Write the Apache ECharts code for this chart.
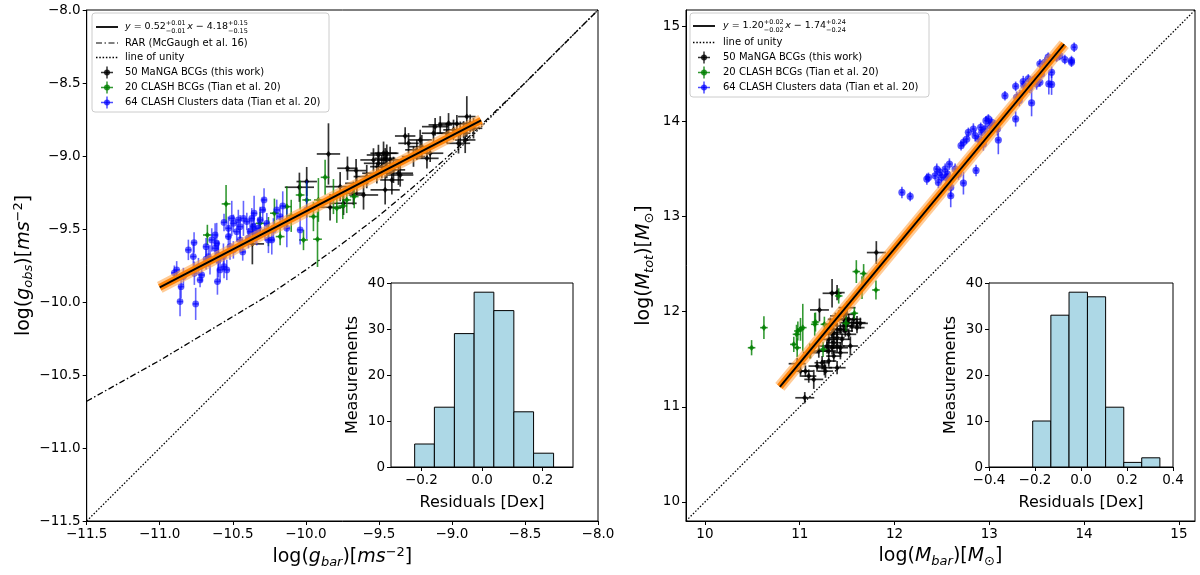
<!DOCTYPE html>
<html>
<head>
<meta charset="utf-8">
<script src="https://cdn.jsdelivr.net/npm/echarts/dist/echarts.min.js"></script>
<style>
    html, body { margin: 0; padding: 0; background: #fff; }
    #chart { width: 1200px; height: 575px; }
</style>
</head>
<body>
<div id="chart"></div>
<script>
// ======================================数据======================================
// 每个点: [x, y, xerr, yerr]
var accBlack = [
    [-10.366, -9.602, 0.08, 0.14], [-10.044, -9.214, 0.10, 0.10], [-9.994, -9.175, 0.07, 0.10],
    [-9.845, -8.986, 0.08, 0.21], [-9.834, -9.351, 0.10, 0.09], [-9.765, -9.210, 0.10, 0.10],
    [-9.715, -9.084, 0.07, 0.08], [-9.656, -9.100, 0.07, 0.08], [-9.605, -9.267, 0.10, 0.10],
    [-9.674, -9.255, 0.08, 0.08], [-9.503, -8.993, 0.08, 0.07], [-9.468, -8.981, 0.09, 0.08],
    [-9.446, -8.981, 0.08, 0.06], [-9.503, -9.050, 0.10, 0.08], [-9.480, -9.073, 0.08, 0.08],
    [-9.457, -9.016, 0.07, 0.07], [-9.423, -9.027, 0.09, 0.09], [-9.457, -9.232, 0.10, 0.10],
    [-9.400, -9.095, 0.08, 0.09], [-9.366, -9.118, 0.10, 0.08], [-9.320, -8.863, 0.07, 0.06],
    [-9.297, -8.913, 0.07, 0.07], [-9.206, -8.936, 0.09, 0.08], [-9.171, -9.016, 0.08, 0.07],
    [-9.080, -8.787, 0.08, 0.06], [-9.023, -8.776, 0.07, 0.07], [-8.966, -8.780, 0.08, 0.06],
    [-8.943, -8.844, 0.07, 0.08], [-8.898, -8.730, 0.06, 0.14], [-8.955, -8.913, 0.08, 0.07],
    [-8.920, -8.821, 0.07, 0.06], [-9.354, -9.130, 0.09, 0.08], [-9.742, -9.324, 0.09, 0.08],
    [-9.514, -9.118, 0.10, 0.07], [-9.583, -9.141, 0.09, 0.08], [-9.240, -8.958, 0.08, 0.07],
    [-9.126, -8.844, 0.08, 0.06], [-8.989, -8.821, 0.07, 0.07], [-8.875, -8.776, 0.06, 0.06],
    [-9.537, -9.027, 0.09, 0.08], [-9.411, -9.164, 0.08, 0.10], [-9.263, -9.004, 0.08, 0.07],
    [-9.115, -8.799, 0.09, 0.06], [-9.035, -8.844, 0.07, 0.07], [-9.217, -8.890, 0.08, 0.07],
    [-9.149, -8.981, 0.09, 0.06], [-9.446, -9.073, 0.08, 0.08], [-8.909, -8.890, 0.07, 0.09],
    [-8.852, -8.810, 0.06, 0.07], [-9.651, -9.187, 0.08, 0.08]
];
var accGreen = [
    [-10.546, -9.328, 0.03, 0.13], [-10.674, -9.541, 0.03, 0.07], [-10.215, -9.392, 0.03, 0.10],
    [-10.130, -9.347, 0.03, 0.14], [-10.016, -9.575, 0.03, 0.07], [-9.920, -9.570, 0.03, 0.19],
    [-10.176, -9.552, 0.03, 0.06], [-9.994, -9.301, 0.03, 0.12], [-9.914, -9.301, 0.03, 0.15],
    [-9.868, -9.146, 0.03, 0.12], [-9.788, -9.358, 0.03, 0.10], [-9.747, -9.342, 0.03, 0.09],
    [-9.669, -9.278, 0.03, 0.08], [-10.256, -9.518, 0.03, 0.10], [-10.039, -9.267, 0.03, 0.10],
    [-9.948, -9.415, 0.03, 0.10], [-9.811, -9.278, 0.03, 0.12], [-10.313, -9.461, 0.03, 0.08],
    [-9.720, -9.301, 0.03, 0.09], [-10.100, -9.410, 0.03, 0.11]
];
var accBlue = [
    [-10.884, -9.780, 0.02, 0.06], [-10.854, -9.895, 0.02, 0.08], [-10.861, -9.997, 0.02, 0.10],
    [-10.765, -9.593, 0.02, 0.07], [-10.770, -9.689, 0.02, 0.09], [-10.754, -10.013, 0.02, 0.11],
    [-10.763, -9.803, 0.02, 0.08], [-10.724, -9.849, 0.02, 0.05], [-10.713, -9.815, 0.02, 0.05],
    [-10.683, -9.621, 0.02, 0.06], [-10.683, -9.707, 0.02, 0.07], [-10.656, -9.712, 0.02, 0.10],
    [-10.621, -9.541, 0.02, 0.08], [-10.610, -9.598, 0.02, 0.14], [-10.599, -9.678, 0.02, 0.10],
    [-10.599, -9.712, 0.02, 0.12], [-10.605, -9.860, 0.02, 0.09], [-10.560, -9.758, 0.02, 0.08],
    [-10.541, -9.780, 0.02, 0.07], [-10.530, -9.552, 0.02, 0.07], [-10.530, -9.495, 0.02, 0.08],
    [-10.519, -9.621, 0.02, 0.09], [-10.507, -9.427, 0.02, 0.12], [-10.496, -9.461, 0.02, 0.06],
    [-10.462, -9.438, 0.02, 0.07], [-10.427, -9.427, 0.02, 0.12], [-10.432, -9.657, 0.02, 0.06],
    [-10.450, -9.575, 0.02, 0.08], [-10.393, -9.563, 0.02, 0.07], [-10.382, -9.518, 0.02, 0.09],
    [-10.359, -9.484, 0.02, 0.10], [-10.354, -9.392, 0.02, 0.12], [-10.347, -9.529, 0.02, 0.07],
    [-10.313, -9.438, 0.02, 0.09], [-10.295, -9.369, 0.02, 0.08], [-10.286, -9.301, 0.02, 0.08],
    [-10.267, -9.461, 0.02, 0.07], [-10.256, -9.575, 0.02, 0.09], [-10.222, -9.506, 0.02, 0.08],
    [-10.176, -9.415, 0.02, 0.07], [-10.158, -9.342, 0.02, 0.10], [-10.130, -9.495, 0.02, 0.13],
    [-9.994, -9.369, 0.02, 0.20], [-10.804, -9.643, 0.02, 0.07], [-10.735, -9.758, 0.02, 0.06],
    [-10.644, -9.575, 0.02, 0.08], [-10.564, -9.689, 0.02, 0.09], [-10.473, -9.518, 0.02, 0.07],
    [-10.404, -9.449, 0.02, 0.06], [-10.325, -9.495, 0.02, 0.07], [-10.587, -9.780, 0.02, 0.08],
    [-10.496, -9.643, 0.02, 0.06], [-10.370, -9.427, 0.02, 0.07], [-10.233, -9.575, 0.02, 0.10],
    [-10.199, -9.369, 0.02, 0.07], [-10.838, -9.826, 0.02, 0.06], [-10.667, -9.689, 0.02, 0.07],
    [-10.450, -9.484, 0.02, 0.08], [-10.336, -9.552, 0.02, 0.06], [-10.621, -9.632, 0.02, 0.07],
    [-10.039, -9.506, 0.02, 0.10], [-10.900, -9.800, 0.02, 0.05], [-10.560, -9.455, 0.02, 0.06],
    [-10.280, -9.520, 0.02, 0.06]
];
var massBlack = [
    [11.808, 12.621, 0.10, 0.12], [11.341, 12.193, 0.10, 0.15], [11.394, 12.200, 0.08, 0.08],
    [11.208, 12.018, 0.10, 0.12], [11.053, 11.095, 0.10, 0.06], [11.148, 11.288, 0.10, 0.10],
    [11.060, 11.375, 0.08, 0.06], [11.008, 11.375, 0.08, 0.06], [10.973, 11.453, 0.09, 0.06],
    [11.260, 11.411, 0.08, 0.08], [11.394, 11.411, 0.09, 0.07], [11.306, 11.481, 0.08, 0.06],
    [11.288, 11.639, 0.08, 0.08], [11.341, 11.621, 0.09, 0.07], [11.394, 11.639, 0.08, 0.07],
    [11.429, 11.621, 0.08, 0.06], [11.341, 11.762, 0.08, 0.08], [11.359, 11.779, 0.09, 0.07],
    [11.394, 11.814, 0.08, 0.07], [11.429, 11.814, 0.08, 0.06], [11.464, 11.849, 0.09, 0.07],
    [11.481, 11.797, 0.08, 0.06], [11.516, 11.919, 0.09, 0.06], [11.569, 11.919, 0.08, 0.06],
    [11.604, 11.884, 0.09, 0.07], [11.639, 11.877, 0.08, 0.06], [11.534, 11.639, 0.08, 0.10],
    [11.481, 11.972, 0.08, 0.06], [11.499, 12.042, 0.09, 0.07], [11.376, 11.919, 0.08, 0.07],
    [11.113, 11.569, 0.08, 0.06], [11.201, 11.586, 0.09, 0.07], [11.306, 11.709, 0.08, 0.07],
    [11.394, 11.727, 0.08, 0.06], [11.271, 11.375, 0.08, 0.07], [11.446, 11.709, 0.09, 0.06],
    [11.551, 11.849, 0.08, 0.06], [11.236, 11.463, 0.08, 0.07], [11.359, 11.533, 0.08, 0.06],
    [11.464, 11.919, 0.08, 0.06], [11.323, 11.867, 0.08, 0.07], [11.411, 11.955, 0.09, 0.06],
    [11.516, 11.762, 0.08, 0.06], [11.604, 11.832, 0.08, 0.06], [11.183, 11.428, 0.09, 0.06],
    [11.429, 11.569, 0.08, 0.07], [11.306, 11.586, 0.08, 0.06], [11.095, 11.323, 0.08, 0.07],
    [11.499, 11.884, 0.08, 0.06], [11.359, 11.674, 0.08, 0.07]
];
var massGreen = [
    [10.492, 11.621, 0.04, 0.08], [10.622, 11.832, 0.04, 0.12], [10.937, 11.656, 0.04, 0.08],
    [10.973, 11.621, 0.04, 0.10], [10.980, 11.797, 0.04, 0.10], [11.008, 11.814, 0.04, 0.12],
    [11.032, 11.832, 0.04, 0.25], [11.158, 11.867, 0.04, 0.12], [11.260, 11.867, 0.04, 0.08],
    [11.246, 11.604, 0.04, 0.08], [11.411, 12.165, 0.04, 0.08], [11.488, 11.877, 0.04, 0.08],
    [11.576, 11.983, 0.04, 0.06], [11.597, 12.421, 0.04, 0.12], [11.674, 12.400, 0.04, 0.10],
    [11.657, 12.253, 0.04, 0.12], [11.804, 12.228, 0.04, 0.10], [11.166, 11.891, 0.04, 0.10],
    [10.966, 11.762, 0.04, 0.10], [11.106, 11.586, 0.04, 0.08]
];
var massBlue = [
    [12.078, 13.253, 0.02, 0.06], [12.165, 13.211, 0.02, 0.05], [12.341, 13.393, 0.02, 0.06],
    [12.358, 13.411, 0.02, 0.05], [12.428, 13.428, 0.02, 0.05], [12.463, 13.358, 0.02, 0.06],
    [12.481, 13.463, 0.02, 0.05], [12.499, 13.411, 0.02, 0.05], [12.534, 13.498, 0.02, 0.06],
    [12.544, 13.411, 0.02, 0.05], [12.579, 13.551, 0.02, 0.06], [12.558, 13.446, 0.02, 0.05],
    [12.593, 13.305, 0.02, 0.10], [12.593, 13.217, 0.02, 0.12], [12.674, 13.446, 0.02, 0.06],
    [12.727, 13.351, 0.02, 0.12], [12.860, 13.484, 0.02, 0.06], [12.702, 13.744, 0.02, 0.05],
    [12.727, 13.779, 0.02, 0.05], [12.762, 13.814, 0.02, 0.05], [12.779, 13.884, 0.02, 0.05],
    [12.832, 13.919, 0.02, 0.06], [12.850, 13.849, 0.02, 0.06], [12.885, 13.814, 0.02, 0.05],
    [12.909, 13.937, 0.02, 0.05], [12.920, 13.884, 0.02, 0.06], [12.937, 13.762, 0.02, 0.07],
    [12.965, 14.007, 0.02, 0.05], [12.990, 14.025, 0.02, 0.05], [13.007, 13.954, 0.02, 0.06],
    [13.025, 13.990, 0.02, 0.05], [13.060, 13.954, 0.02, 0.06], [13.085, 13.919, 0.02, 0.07],
    [13.095, 13.804, 0.02, 0.15], [13.165, 14.270, 0.02, 0.05], [13.278, 14.025, 0.02, 0.08],
    [13.278, 14.368, 0.02, 0.05], [13.288, 14.253, 0.02, 0.06], [13.316, 14.218, 0.02, 0.06],
    [13.358, 14.418, 0.02, 0.06], [13.365, 14.376, 0.02, 0.05], [13.446, 14.193, 0.02, 0.14],
    [13.428, 14.358, 0.02, 0.06], [13.481, 14.446, 0.02, 0.05], [13.499, 14.393, 0.02, 0.06],
    [13.534, 14.411, 0.02, 0.05], [13.551, 14.498, 0.02, 0.05], [13.534, 14.604, 0.02, 0.05],
    [13.621, 14.674, 0.02, 0.05], [13.657, 14.516, 0.02, 0.06], [13.628, 14.393, 0.02, 0.11],
    [13.657, 14.388, 0.02, 0.11], [13.744, 14.691, 0.02, 0.05], [13.797, 14.649, 0.02, 0.05],
    [13.867, 14.639, 0.02, 0.05], [13.867, 14.621, 0.02, 0.05], [13.895, 14.779, 0.02, 0.05],
    [13.709, 14.674, 0.02, 0.05], [13.323, 14.270, 0.02, 0.06], [13.586, 14.621, 0.02, 0.05],
    [13.411, 14.446, 0.02, 0.05], [12.955, 13.919, 0.02, 0.05], [12.446, 13.498, 0.02, 0.06],
    [12.639, 13.498, 0.02, 0.06]
];

// 拟合线 (两端点) 和 RAR 曲线
var accFitX = [-11.0, -8.8];
var accFitY = [-9.90, -8.756];
var massFitX = [10.79, 13.79];
var massFitY = [11.21, 14.81];
var rarX = [-11.5, -11.25, -11.0, -10.75, -10.5, -10.25, -10.0, -9.75, -9.5, -9.25, -9.0, -8.75, -8.5, -8.25, -8.0];
var rarY = [-10.68, -10.54, -10.40, -10.25, -10.10, -9.95, -9.78, -9.60, -9.41, -9.20, -8.98, -8.74, -8.50, -8.25, -8.00];

// 残差直方图
var accHistEdges = [-0.222, -0.157, -0.091, -0.026, 0.039, 0.105, 0.170, 0.236];
var accHistCounts = [5, 13, 29, 38, 34, 12, 3];
var massHistEdges = [-0.210, -0.131, -0.052, 0.028, 0.107, 0.186, 0.264, 0.343];
var massHistCounts = [10, 33, 38, 37, 13, 1, 2];

// 刻度
var massTicks = [10, 11, 12, 13, 14, 15];
var accHistTicks = [-0.2, 0, 0.2];

// ======================================工具函数======================================
var FONT = 'DejaVu Sans';
var measureCtx = document.createElement('canvas').getContext('2d');

function textW(str, size, italic) {
    measureCtx.font = (italic ? 'italic ' : '') + size + 'px "' + FONT + '"';
    return measureCtx.measureText(str).width;
}

function fmt(d) {
    return function (v) {
        if (Math.abs(v) < 1e-9) v = 0;
        return v.toFixed(d).replace('-', '\u2212');
    };
}

function zip(xs, ys) {
    return xs.map(function (x, i) { return [x, ys[i]]; });
}

function histData(edges, counts) {
    return counts.map(function (c, i) { return [edges[i], edges[i + 1], c]; });
}

function errorBarRender(color, alpha, shape, size, lw) {
    return function (params, api) {
        var x = api.value(0), y = api.value(1), ex = api.value(2), ey = api.value(3);
        var c = api.coord([x, y]);
        var l = api.coord([x - ex, y]), r = api.coord([x + ex, y]);
        var t = api.coord([x, y + ey]), b = api.coord([x, y - ey]);
        var ls = { stroke: color, lineWidth: lw, opacity: alpha };
        var marker;
        if (shape === 'diamond') {
            marker = {
                type: 'polygon',
                shape: { points: [[c[0], c[1] - size], [c[0] + size * 0.8, c[1]], [c[0], c[1] + size], [c[0] - size * 0.8, c[1]]] },
                style: { fill: color, opacity: alpha }
            };
        } else {
            marker = { type: 'circle', shape: { cx: c[0], cy: c[1], r: size }, style: { fill: color, opacity: alpha } };
        }
        return {
            type: 'group',
            children: [
                { type: 'line', shape: { x1: l[0], y1: l[1], x2: r[0], y2: r[1] }, style: ls },
                { type: 'line', shape: { x1: t[0], y1: t[1], x2: b[0], y2: b[1] }, style: ls },
                marker
            ]
        };
    };
}

function histRender(params, api) {
    var p0 = api.coord([api.value(0), api.value(2)]);
    var p1 = api.coord([api.value(1), 0]);
    return {
        type: 'rect',
        shape: { x: p0[0], y: p0[1], width: p1[0] - p0[0], height: p1[1] - p0[1] },
        style: { fill: '#add8e6', stroke: '#000', lineWidth: 1 }
    };
}

function axisBase(grid, min, max, labelSize) {
    return {
        type: 'value', gridIndex: grid, min: min, max: max,
        splitLine: { show: false },
        axisLine: { show: true, onZero: false, lineStyle: { color: '#000', width: 1 } },
        axisTick: { show: true, length: 4, lineStyle: { color: '#000' } },
        axisLabel: { color: '#000', fontFamily: FONT, fontSize: labelSize || 13.5, margin: 6 },
        nameTextStyle: { color: '#000', fontFamily: FONT }
    };
}

var titleRich = {
    i: { fontStyle: 'italic', fontSize: 19, fontFamily: FONT, color: '#000' },
    sb: { fontStyle: 'italic', fontSize: 13, fontFamily: FONT, color: '#000', padding: [10, 0, 0, 0] },
    su: { fontSize: 13, fontFamily: FONT, color: '#000', padding: [10, 0, 0, 0] },
    sp: { fontSize: 13, fontFamily: FONT, color: '#000', padding: [0, 0, 10, 0] }
};

function errSeries(x, y, data, color, alpha, shape, size, lw) {
    return {
        type: 'custom', xAxisIndex: x, yAxisIndex: y, data: data,
        encode: { x: 0, y: 1 }, renderItem: errorBarRender(color, alpha, shape, size, lw || 1.5), z: 3
    };
}

function lineSeries(x, y, data, style, z) {
    return {
        type: 'line', xAxisIndex: x, yAxisIndex: y, data: data, symbol: 'none',
        lineStyle: style, z: z || 2, silent: true
    };
}

// ======================================图例======================================
function legendText(str, x, y, size, italic) {
    return {
        type: 'text', x: x, y: y,
        style: {
            text: str, font: (italic ? 'italic ' : '') + size + 'px "' + FONT + '"', fill: '#000',
            textAlign: 'left', textVerticalAlign: 'middle', align: 'left', verticalAlign: 'middle'
        }
    };
}

function mathLabel(x, cy, pieces) {
    var out = [], cx = x, big = 9.5, small = 6.5;
    pieces.forEach(function (p) {
        if (p.sup) {
            out.push(legendText(p.sup, cx, cy - 3.5, small));
            out.push(legendText(p.sub, cx, cy + 4.5, small));
            cx += Math.max(textW(p.sup, small), textW(p.sub, small)) + 1.5;
        } else {
            out.push(legendText(p.t, cx, cy, big, p.it));
            cx += textW(p.t, big, p.it);
        }
    });
    return out;
}

function buildLegend(box, hx, tx, rows, fitPieces) {
    var ch = [{
        type: 'rect', shape: { x: box[0], y: box[1], width: box[2], height: box[3], r: 3 },
        style: { fill: 'rgba(255,255,255,0.85)', stroke: '#cccccc', lineWidth: 1 }
    }];
    rows.forEach(function (row) {
        if (row.kind === 'fit' || row.kind === 'line') {
            ch.push({
                type: 'line', shape: { x1: hx, y1: row.cy, x2: hx + 22, y2: row.cy },
                style: { stroke: '#000', lineWidth: row.w || 1.2, lineDash: row.dash || null }
            });
        } else {
            var mx = hx + 11, st = { stroke: row.color, lineWidth: 1.5, opacity: row.alpha };
            ch.push({ type: 'line', shape: { x1: mx - 6, y1: row.cy, x2: mx + 6, y2: row.cy }, style: st });
            ch.push({ type: 'line', shape: { x1: mx, y1: row.cy - 6, x2: mx, y2: row.cy + 6 }, style: st });
            ch.push({ type: 'circle', shape: { cx: mx, cy: row.cy, r: 3 }, style: { fill: row.color, opacity: row.alpha } });
        }
        if (row.kind === 'fit') {
            ch = ch.concat(mathLabel(tx, row.cy, fitPieces));
        } else {
            ch.push(legendText(row.text, tx, row.cy, 10));
        }
    });
    return { type: 'group', z: 100, children: ch };
}

var ptRows = [
    { kind: 'pt', color: '#000', alpha: 0.8, text: '50 MaNGA BCGs (this work)' },
    { kind: 'pt', color: '#008000', alpha: 0.8, text: '20 CLASH BCGs (Tian et al. 20)' },
    { kind: 'pt', color: '#0000ff', alpha: 0.7, text: '64 CLASH Clusters data (Tian et al. 20)' }
];

var leftRows = [
    { kind: 'fit', cy: 27, w: 1.8 },
    { kind: 'line', cy: 43, dash: [6, 2.5, 1.5, 2.5], text: 'RAR (McGaugh et al. 16)' },
    { kind: 'line', cy: 57.5, dash: [1.5, 1.8], w: 1.3, text: 'line of unity' }
].concat(ptRows.map(function (r, i) {
    return { kind: 'pt', color: r.color, alpha: r.alpha, text: r.text, cy: 72.5 + i * 15 };
}));

var rightRows = [
    { kind: 'fit', cy: 26, w: 1.8 },
    { kind: 'line', cy: 42.5, dash: [1.5, 1.8], w: 1.3, text: 'line of unity' }
].concat(ptRows.map(function (r, i) {
    return { kind: 'pt', color: r.color, alpha: r.alpha, text: r.text, cy: 57.5 + i * 15 };
}));

var leftFit = [
    { t: 'y', it: true }, { t: ' = 0.52' }, { sup: '+0.01', sub: '\u22120.01' },
    { t: 'x', it: true }, { t: ' \u2212 4.18' }, { sup: '+0.15', sub: '\u22120.15' }
];
var rightFit = [
    { t: 'y', it: true }, { t: ' = 1.20' }, { sup: '+0.02', sub: '\u22120.02' },
    { t: 'x', it: true }, { t: ' \u2212 1.74' }, { sup: '+0.24', sub: '\u22120.24' }
];

// ======================================坐标轴======================================
var xAcc = axisBase(0, -11.5, -8.0);
xAcc.interval = 0.5;
xAcc.axisLabel.formatter = fmt(1);
xAcc.name = 'log({i|g}{sb|bar})[{i|ms}{sp|\u22122}]';
xAcc.nameLocation = 'middle';
xAcc.nameGap = 24;
xAcc.nameTextStyle = { color: '#000', fontFamily: FONT, fontSize: 19, rich: titleRich };

var yAcc = axisBase(0, -11.5, -8.0);
yAcc.interval = 0.5;
yAcc.axisLabel.formatter = fmt(1);
yAcc.name = 'log({i|g}{sb|obs})[{i|ms}{sp|\u22122}]';
yAcc.nameLocation = 'middle';
yAcc.nameGap = 50;
yAcc.nameRotate = 90;
yAcc.nameTextStyle = { color: '#000', fontFamily: FONT, fontSize: 19, rich: titleRich };

var xMass = axisBase(1, 9.8, 15.17);
xMass.axisTick.customValues = massTicks;
xMass.axisLabel.customValues = massTicks;
xMass.axisLabel.formatter = fmt(0);
xMass.name = 'log({i|M}{sb|bar})[{i|M}{su|\u2299}]';
xMass.nameLocation = 'middle';
xMass.nameGap = 24;
xMass.nameTextStyle = { color: '#000', fontFamily: FONT, fontSize: 19, rich: titleRich };

var yMass = axisBase(1, 9.8, 15.17);
yMass.axisTick.customValues = massTicks;
yMass.axisLabel.customValues = massTicks;
yMass.axisLabel.formatter = fmt(0);
yMass.name = 'log({i|M}{sb|tot})[{i|M}{su|\u2299}]';
yMass.nameLocation = 'middle';
yMass.nameGap = 30;
yMass.nameRotate = 90;
yMass.nameTextStyle = { color: '#000', fontFamily: FONT, fontSize: 19, rich: titleRich };

function histX(grid, min, max) {
    var a = axisBase(grid, min, max);
    a.axisLabel.formatter = fmt(1);
    a.name = 'Residuals [Dex]';
    a.nameLocation = 'middle';
    a.nameGap = 28;
    a.nameTextStyle = { color: '#000', fontFamily: FONT, fontSize: 16 };
    return a;
}
function histY(grid) {
    var a = axisBase(grid, 0, 40);
    a.interval = 10;
    a.name = 'Measurements';
    a.nameLocation = 'middle';
    a.nameGap = 30;
    a.nameRotate = 90;
    a.nameTextStyle = { color: '#000', fontFamily: FONT, fontSize: 16 };
    return a;
}

var xAccHist = histX(2, -0.3, 0.3);
xAccHist.axisTick.customValues = accHistTicks;
xAccHist.axisLabel.customValues = accHistTicks;
var xMassHist = histX(3, -0.4, 0.4);
xMassHist.interval = 0.2;

// ======================================配置======================================
var bandOuter = { color: '#ffa040', width: 12, opacity: 0.55 };
var bandInner = { color: '#ff8000', width: 7, opacity: 0.95 };
var fitStyle = { color: '#000', width: 1.9 };
var dotted = { color: '#000', width: 1.3, type: [1.5, 1.8] };

var option = {
    animation: false,
    backgroundColor: '#fff',
    grid: [
        { left: 86.7, top: 10, width: 511.3, height: 511, show: true, borderColor: '#000', borderWidth: 1 },
        { left: 686, top: 10, width: 509, height: 511, show: true, borderColor: '#000', borderWidth: 1 },
        { left: 391, top: 283, width: 182, height: 184, show: true, backgroundColor: '#fff', borderColor: '#000', borderWidth: 1, z: 10 },
        { left: 989, top: 283, width: 184, height: 184, show: true, backgroundColor: '#fff', borderColor: '#000', borderWidth: 1, z: 10 }
    ],
    xAxis: [xAcc, xMass, xAccHist, xMassHist],
    yAxis: [yAcc, yMass, histY(2), histY(3)],
    series: [
        lineSeries(0, 0, [[-11.5, -11.5], [-8.0, -8.0]], dotted),
        lineSeries(0, 0, zip(rarX, rarY), { color: '#000', width: 1.3, type: [6, 2.5, 1.5, 2.5] }),
        errSeries(0, 0, accBlack, '#000', 0.8, 'diamond', 3.2, 1.7),
        errSeries(0, 0, accGreen, '#008000', 0.8, 'diamond', 3.3, 1.6),
        errSeries(0, 0, accBlue, '#0000ff', 0.6, 'circle', 3.4, 1.6),
        lineSeries(0, 0, zip(accFitX, accFitY), bandOuter, 4),
        lineSeries(0, 0, zip(accFitX, accFitY), bandInner, 4),
        lineSeries(0, 0, zip(accFitX, accFitY), fitStyle, 5),

        lineSeries(1, 1, [[9.8, 9.8], [15.17, 15.17]], dotted),
        errSeries(1, 1, massBlack, '#000', 0.8, 'diamond', 3.2, 1.7),
        errSeries(1, 1, massGreen, '#008000', 0.8, 'diamond', 3.3, 1.6),
        errSeries(1, 1, massBlue, '#0000ff', 0.65, 'circle', 3.6, 1.6),
        lineSeries(1, 1, zip(massFitX, massFitY), bandOuter, 4),
        lineSeries(1, 1, zip(massFitX, massFitY), bandInner, 4),
        lineSeries(1, 1, zip(massFitX, massFitY), fitStyle, 5),

        { type: 'custom', xAxisIndex: 2, yAxisIndex: 2, data: histData(accHistEdges, accHistCounts), encode: { x: [0, 1], y: 2 }, renderItem: histRender, z: 11 },
        { type: 'custom', xAxisIndex: 3, yAxisIndex: 3, data: histData(massHistEdges, massHistCounts), encode: { x: [0, 1], y: 2 }, renderItem: histRender, z: 11 }
    ],
    graphic: [
        buildLegend([92, 13, 237, 99], 96, 125, leftRows, leftFit),
        buildLegend([690, 13, 239, 84], 693, 723, rightRows, rightFit)
    ]
};

var chart = echarts.init(document.getElementById('chart'));
chart.setOption(option);
</script>
</body>
</html>
